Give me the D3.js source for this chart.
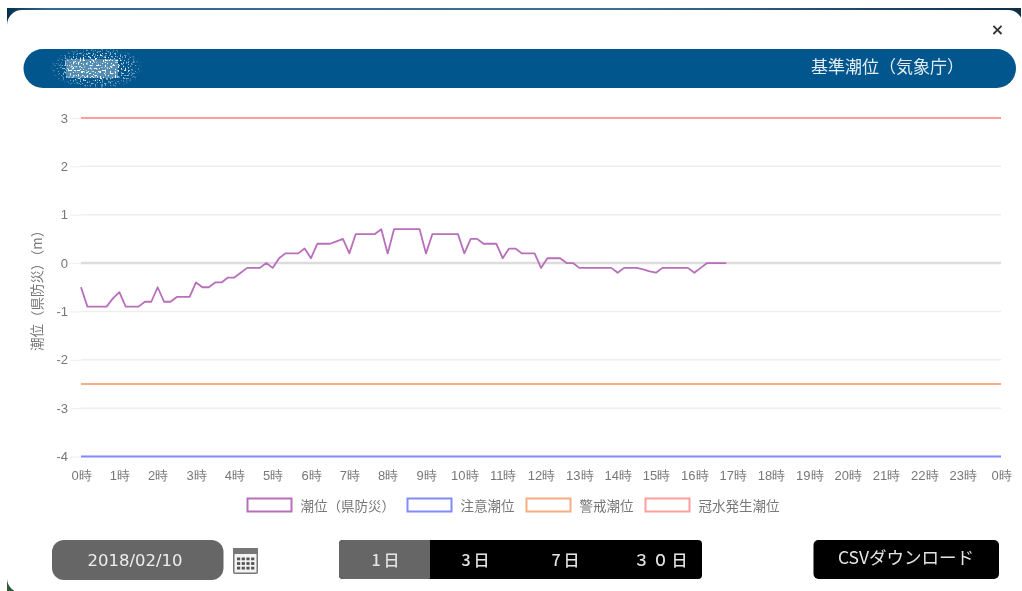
<!DOCTYPE html>
<html>
<head>
<meta charset="utf-8">
<script src="https://cdn.jsdelivr.net/npm/d3@7"></script>
<style>
  html, body { margin: 0; padding: 0; background: #fff; overflow: hidden; }
  svg { display: block; font-family: "Noto Sans CJK JP", "Noto Sans", sans-serif; }
  #soft { filter: blur(0.6px); }
  .domain { display: none; }
</style>
</head>
<body>
<div id="chart-area"></div>
<script>
// tide level every 10 minutes from 0:00 (m)
const tideLevels = [
  -0.5, -0.9, -0.9, -0.9, -0.9, -0.73, -0.6, -0.9, -0.9, -0.9,
  -0.8, -0.8, -0.5, -0.8, -0.8, -0.7, -0.7, -0.7, -0.4, -0.5,
  -0.5, -0.4, -0.4, -0.3, -0.3, -0.2, -0.1, -0.1, -0.1, 0,
  -0.1, 0.1, 0.2, 0.2, 0.2, 0.3, 0.1, 0.4, 0.4, 0.4,
  0.45, 0.5, 0.2, 0.6, 0.6, 0.6, 0.6, 0.7, 0.2, 0.7,
  0.7, 0.7, 0.7, 0.7, 0.2, 0.6, 0.6, 0.6, 0.6, 0.6,
  0.2, 0.5, 0.5, 0.4, 0.4, 0.4, 0.1, 0.3, 0.3, 0.2,
  0.2, 0.2, -0.1, 0.1, 0.1, 0.1, 0, 0, -0.1, -0.1,
  -0.1, -0.1, -0.1, -0.1, -0.2, -0.1, -0.1, -0.1, -0.13, -0.17,
  -0.2, -0.1, -0.1, -0.1, -0.1, -0.1, -0.2, -0.1, 0, 0,
  0, 0
];
const thresholdNames = ["注意潮位", "警戒潮位", "冠水発生潮位"];
const thresholdValues = [-4, -2.5, 3];
const thresholdColors = ["#7f8bf7", "#f8ad80", "#ff9d9d"];
const levelName = "潮位（県防災）";
const levelColor = "#b86fbb";
const yTicks = [3, 2, 1, 0, -1, -2, -3, -4];
const hourTicks = d3.range(0, 25);
const rangeButtons = ["1日", "3日", "7日", "３０日"];

const margin = { left: 81, right: 21, top: 118, bottom: 134.5 };
const width = 1022 - margin.left - margin.right;
const height = 591 - margin.top - margin.bottom;

const root = d3.select("#chart-area").append("svg")
  .attr("width", 1022)
  .attr("height", 591);

/* speckle filter for the masked station name */
const defs = root.append("defs");
const speckle = defs.append("filter").attr("id", "speckle")
  .attr("x", 0).attr("y", 0).attr("width", 1).attr("height", 1)
  .attr("color-interpolation-filters", "sRGB");
speckle.append("feTurbulence")
  .attr("type", "fractalNoise").attr("baseFrequency", 0.6)
  .attr("numOctaves", 1).attr("seed", 7).attr("result", "noise");
speckle.append("feColorMatrix").attr("in", "noise").attr("type", "matrix")
  .attr("values", "0 0 0 0 0  0 0 0 0 0  0 0 0 0 0  0 9 0 0 -4.9")
  .attr("result", "dots");
speckle.append("feFlood").attr("flood-color", "#fff").attr("result", "white");
speckle.append("feComposite").attr("in", "white").attr("in2", "dots")
  .attr("operator", "in").attr("result", "whiteDots");
speckle.append("feComposite").attr("in", "whiteDots").attr("in2", "SourceGraphic")
  .attr("operator", "in");
const fade = defs.append("radialGradient").attr("id", "speckleFade");
fade.append("stop").attr("offset", "0.55").attr("stop-color", "#fff").attr("stop-opacity", 1);
fade.append("stop").attr("offset", "1").attr("stop-color", "#fff").attr("stop-opacity", 0.1);

const soft = root.append("g").attr("id", "soft");

/* page behind the modal, only its corners show */
const topEdge = defs.append("linearGradient").attr("id", "topEdge");
topEdge.append("stop").attr("offset", "0").attr("stop-color", "#04304f");
topEdge.append("stop").attr("offset", "0.04").attr("stop-color", "#2f6a94");
topEdge.append("stop").attr("offset", "0.6").attr("stop-color", "#3a7198");
topEdge.append("stop").attr("offset", "1").attr("stop-color", "#0f2f47");
soft.append("rect")
  .attr("x", 7).attr("y", 8).attr("width", 1014).attr("height", 30)
  .attr("fill", "url(#topEdge)");
soft.append("rect")
  .attr("x", 7).attr("y", 570).attr("width", 25).attr("height", 21)
  .attr("fill", "#2f5a35");
soft.append("rect")
  .attr("x", 7).attr("y", 10).attr("width", 1016).attr("height", 583)
  .attr("rx", 15)
  .attr("fill", "#fff");

/* close mark */
soft.append("text")
  .attr("x", 997.5).attr("y", 34.5)
  .attr("text-anchor", "middle")
  .attr("font-size", 16).attr("font-weight", 700)
  .attr("font-family", "'DejaVu Sans', sans-serif")
  .attr("fill", "#333")
  .text("×");

/* header banner */
soft.append("rect")
  .attr("x", 23.5).attr("y", 49).attr("width", 992.5).attr("height", 39)
  .attr("rx", 19.5)
  .attr("fill", "#02568e");
soft.append("rect")
  .attr("x", 66).attr("y", 59).attr("width", 52).attr("height", 19)
  .attr("fill", "#fff")
  .attr("opacity", 0.32);
soft.append("ellipse")
  .attr("cx", 97).attr("cy", 68).attr("rx", 46).attr("ry", 21)
  .attr("fill", "url(#speckleFade)")
  .attr("filter", "url(#speckle)");
soft.append("text")
  .attr("x", 811).attr("y", 73)
  .attr("font-size", 17)
  .attr("fill", "#e3ecf3")
  .text("基準潮位（気象庁）");

/* plot */
const vis = soft.append("g")
  .attr("transform", `translate(${margin.left}, ${margin.top})`);

const xScale = d3.scaleLinear().domain([0, 24]).range([0, width]);
const yScale = d3.scaleLinear().domain([-4, 3]).range([height, 0]);

const yAxis = d3.axisLeft(yScale)
  .tickValues(yTicks)
  .tickSize(11)
  .tickPadding(2)
  .tickFormat(d => d);
const xAxis = d3.axisBottom(xScale)
  .tickValues(hourTicks)
  .tickSize(0)
  .tickPadding(14)
  .tickFormat(d => (d % 24) + "時");

vis.append("g")
  .attr("class", "y-axis")
  .call(yAxis)
  .call(g => g.selectAll("line").attr("stroke", "#eee"))
  .call(g => g.selectAll("text").attr("font-size", 13).attr("fill", "#777"));

vis.append("g")
  .attr("class", "grid")
  .selectAll("line")
  .data(yTicks).enter()
  .append("line")
  .attr("x1", 0)
  .attr("x2", width)
  .attr("y1", d => yScale(d))
  .attr("y2", d => yScale(d))
  .attr("stroke", d => d === 0 ? "#dcdcdc" : "#eee")
  .attr("stroke-width", d => d === 0 ? 2.5 : 1.5);

vis.append("g")
  .attr("class", "x-axis")
  .attr("transform", `translate(0, ${height})`)
  .call(xAxis)
  .call(g => g.selectAll("text").attr("font-size", 13).attr("fill", "#777"));

vis.append("text")
  .attr("transform", "rotate(-90)")
  .attr("x", -(yScale(-0.5)))
  .attr("y", -39)
  .attr("text-anchor", "middle")
  .attr("font-size", 13.5)
  .attr("fill", "#777")
  .text("潮位（県防災）（m）");

vis.selectAll(".threshold")
  .data(thresholdValues).enter()
  .append("line")
  .attr("class", "threshold")
  .attr("x1", 0)
  .attr("x2", width)
  .attr("y1", d => yScale(d))
  .attr("y2", d => yScale(d))
  .attr("stroke", (d, i) => thresholdColors[i])
  .attr("stroke-width", 2);

const line = d3.line()
  .x((d, i) => xScale(i / 6))
  .y(d => yScale(d));

vis.append("path")
  .datum(tideLevels)
  .attr("d", line)
  .attr("fill", "none")
  .attr("stroke", levelColor)
  .attr("stroke-width", 1.8)
  .attr("stroke-linejoin", "round");

/* legend */
const legendItems = [levelName].concat(thresholdNames);
const legendColors = [levelColor].concat(thresholdColors);
const legendX = [247.5, 407.5, 526.5, 645.5];
const legend = soft.selectAll(".legend-item")
  .data(legendItems).enter()
  .append("g")
  .attr("class", "legend-item")
  .attr("transform", (d, i) => `translate(${legendX[i]}, 498.5)`);
legend.append("rect")
  .attr("width", 44).attr("height", 13)
  .attr("fill", "#fff")
  .attr("stroke", (d, i) => legendColors[i])
  .attr("stroke-width", 2);
legend.append("text")
  .attr("x", 53).attr("y", 12)
  .attr("font-size", 13.5)
  .attr("fill", "#777")
  .text(d => d);

/* date button and calendar icon */
soft.append("rect")
  .attr("x", 52).attr("y", 540).attr("width", 171.5).attr("height", 40)
  .attr("rx", 12)
  .attr("fill", "#666");
soft.append("text")
  .attr("x", 135).attr("y", 566)
  .attr("text-anchor", "middle")
  .attr("font-size", 16.5)
  .attr("font-family", "'DejaVu Sans', sans-serif")
  .attr("fill", "#eee")
  .text("2018/02/10");

const icon = soft.append("g").attr("transform", "translate(233, 548)");
icon.append("rect")
  .attr("x", 0.75).attr("y", 0.75).attr("width", 23.5).attr("height", 24.5)
  .attr("rx", 1)
  .attr("fill", "#f4f4f4").attr("stroke", "#777").attr("stroke-width", 1.5);
icon.append("rect")
  .attr("width", 25).attr("height", 6)
  .attr("fill", "#777");
d3.range(3).forEach(row => {
  icon.selectAll(null)
    .data(d3.range(4)).enter()
    .append("rect")
    .attr("x", d => 4 + d * 4.7)
    .attr("y", 9.5 + row * 4.6)
    .attr("width", 3.2).attr("height", 2.8)
    .attr("fill", "#555");
});

/* day range buttons */
soft.append("rect")
  .attr("x", 339).attr("y", 540).attr("width", 363).attr("height", 39)
  .attr("rx", 4)
  .attr("fill", "#000");
soft.append("path")
  .attr("d", "M430,540H343a4,4 0 0 0 -4,4V575a4,4 0 0 0 4,4H430Z")
  .attr("fill", "#666");
const rangeX = [387, 477, 567, 662];
soft.selectAll(".range-label")
  .data(rangeButtons).enter()
  .append("text")
  .attr("class", "range-label")
  .attr("x", (d, i) => rangeX[i])
  .attr("y", 565.5)
  .attr("text-anchor", "middle")
  .attr("font-size", 16)
  .attr("font-weight", 500)
  .attr("letter-spacing", 3)
  .attr("fill", "#e4e4e4")
  .text(d => d);

/* CSV button */
soft.append("rect")
  .attr("x", 813.5).attr("y", 540).attr("width", 185.5).attr("height", 39)
  .attr("rx", 5)
  .attr("fill", "#000");
soft.append("text")
  .attr("x", 906).attr("y", 564)
  .attr("text-anchor", "middle")
  .attr("font-size", 17.5)
  .attr("fill", "#e4e4e4")
  .text("CSVダウンロード");
</script>
</body>
</html>
